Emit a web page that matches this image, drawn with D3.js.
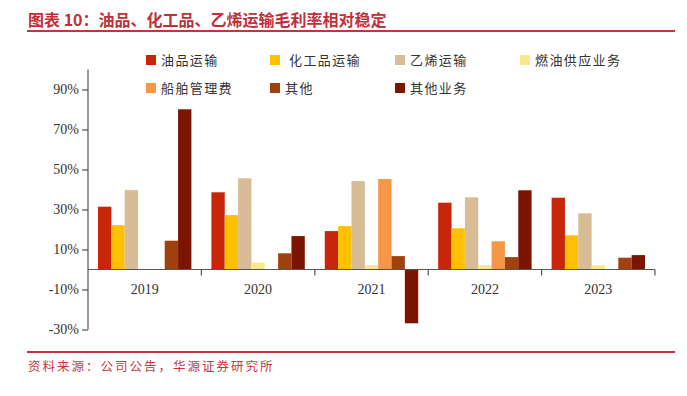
<!DOCTYPE html>
<html><head><meta charset="utf-8">
<script src="https://cdn.jsdelivr.net/npm/d3@7"></script>
<style>body{margin:0;background:#fff;}svg{display:block;}</style>
</head><body>
<svg id="c" width="687" height="396"></svg>
<script>
const years = ["2019","2020","2021","2022","2023"];
const seriesNames = ["油品运输","化工品运输","乙烯运输","燃油供应业务","船舶管理费","其他","其他业务"];
const seriesColors = ["#C8260A","#FFC000","#D8BC96","#F7E98A","#F79646","#A0420E","#7B1500"];
const oilTransport = [31.4, 38.6, 19.2, 33.4, 35.9];
const chemTransport = [22.2, 27.2, 21.7, 20.6, 17.1];
const ethyleneTransport = [39.7, 45.6, 44.2, 36.1, 28.1];
const fuelSupply = [null, 3.4, 2.2, 2.2, 2.1];
const shipMgmt = [null, null, 45.2, 14.1, null];
const other = [14.4, 8.1, 6.7, 6.2, 5.9];
const otherBiz = [80.1, 16.7, -26.9, 39.6, 7.2];
const seriesValues = [oilTransport, chemTransport, ethyleneTransport, fuelSupply, shipMgmt, other, otherBiz];
const yTicks = [-30, -10, 10, 30, 50, 70, 90];
const titleText = "图表 10：油品、化工品、乙烯运输毛利率相对稳定";
const sourceText = "资料来源：公司公告，华源证券研究所";

const svg = d3.select("#c");
const red = "#C4343C";

// title & rules
svg.append("text").attr("x", 28).attr("y", 26).text(titleText)
  .attr("font-family", "Noto Sans CJK SC").attr("font-weight", "bold")
  .attr("font-size", 16).attr("fill", "#C0303A");
svg.append("line").attr("x1", 27).attr("x2", 675).attr("y1", 31).attr("y2", 31)
  .attr("stroke", red).attr("stroke-width", 2);
svg.append("line").attr("x1", 27).attr("x2", 675).attr("y1", 352).attr("y2", 352)
  .attr("stroke", red).attr("stroke-width", 2);
svg.append("text").attr("x", 28).attr("y", 371).text(sourceText)
  .attr("font-family", "Noto Sans CJK SC").attr("font-size", 12.5)
  .attr("fill", "#C8363E").attr("letter-spacing", 2);

// scales
const y = d3.scaleLinear().domain([-30, 100]).range([329.5, 69.5]);
const x0 = d3.scaleBand().domain(years).range([88, 655]).padding(0);
const x1 = d3.scaleBand().domain(seriesNames)
  .range([10, x0.bandwidth() - 10]).padding(0);

// bars
const g = svg.append("g");
seriesNames.forEach((name, si) => {
  g.selectAll(null).data(years.map((yr, i) => ({yr, v: seriesValues[si][i]})).filter(d => d.v != null))
    .enter().append("rect")
    .attr("x", d => x0(d.yr) + x1(name))
    .attr("width", x1.bandwidth())
    .attr("y", d => y(Math.max(0, d.v)))
    .attr("height", d => Math.abs(y(d.v) - y(0)))
    .attr("fill", seriesColors[si]);
});

// y axis
const yAxis = svg.append("g").attr("transform", "translate(88,0)")
  .call(d3.axisLeft(y).tickValues(yTicks).tickSize(6).tickPadding(3)
    .tickFormat(d => d + "%"));
yAxis.select(".domain").attr("d", `M0,${y(100)}V${y(-30)}`).attr("stroke", "#333");
yAxis.selectAll(".tick line").attr("stroke", "#333");
yAxis.selectAll("text").attr("font-family", "Liberation Serif").attr("font-size", 14).attr("fill", "#333");

// x axis at zero
const xAxis = svg.append("g").attr("transform", `translate(0,${y(0)})`);
xAxis.append("line").attr("x1", 88).attr("x2", x0.range()[1]).attr("stroke", "#555").attr("stroke-width", 1.2);
xAxis.selectAll(".xt").data(years.slice(1).concat(["end"])).enter().append("line")
  .attr("x1", (d, i) => i < years.length - 1 ? x0(d) : x0.range()[1])
  .attr("x2", (d, i) => i < years.length - 1 ? x0(d) : x0.range()[1])
  .attr("y1", 0).attr("y2", 6).attr("stroke", "#555").attr("stroke-width", 1.2);
xAxis.selectAll(".xl").data(years).enter().append("text")
  .attr("x", d => x0(d) + x0.bandwidth() / 2).attr("y", 24)
  .attr("text-anchor", "middle").text(d => d)
  .attr("font-family", "Liberation Serif").attr("font-size", 14).attr("fill", "#333");

// legend
const legendPos = [[146,60],[270,60],[395,60],[520,60],[146,88],[270,88],[395,88]];
const lg = svg.append("g");
seriesNames.forEach((name, i) => {
  const [lx, ly] = legendPos[i];
  lg.append("rect").attr("x", lx).attr("y", ly - 5).attr("width", 10).attr("height", 10).attr("fill", seriesColors[i]);
  lg.append("text").attr("x", lx + (i === 1 ? 19 : 15)).attr("y", ly + 5).text(name)
    .attr("font-family", "Noto Sans CJK SC").attr("font-size", 13)
    .attr("letter-spacing", 1.4).attr("fill", "#333");
});
</script>
</body></html>
